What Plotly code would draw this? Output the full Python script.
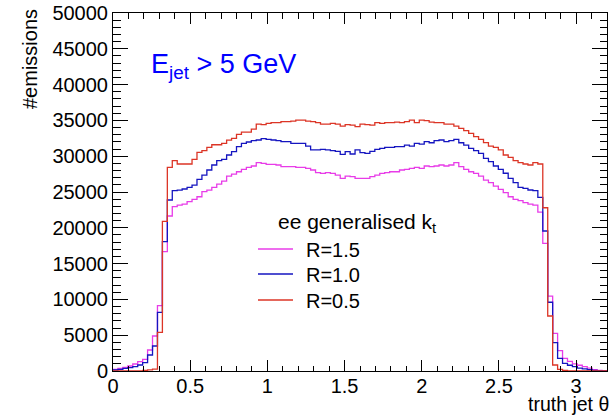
import numpy as np
import plotly.graph_objects as go

# histogram binning: 100 bins over truth jet theta in [0, 3.2]
bin_edges = np.linspace(0.0, 3.2, 101)

series_names = ["R=1.5", "R=1.0", "R=0.5"]

r15 = [230, 370, 510, 700, 980, 1300, 1630, 2930, 4890, 9120,
       16670, 21650, 22950, 23180, 23320, 23650, 23970, 24340, 25040, 25270,
       25650, 26110, 26530, 27230, 27510, 27830, 28160, 28440, 28630, 29100,
       29000, 28860, 28860, 28770, 28540, 28540, 28540, 28440, 28440, 28300,
       28070, 27700, 27600, 27700, 27600, 27370, 26910, 27230, 27140, 26910,
       26910, 26910, 27140, 27370, 27600, 27700, 27830, 27830, 28070, 28170,
       28310, 28440, 28310, 28630, 28540, 28630, 28770, 28630, 28770, 29100,
       28540, 28170, 27830, 27600, 27230, 26670, 26300, 25830, 25370, 24900,
       24340, 23970, 23790, 23510, 23320, 23180, 22200, 17830, 10470, 5260,
       2840, 1770, 1350, 1000, 800, 600, 400, 200, 100, 0]

r10 = [140, 230, 370, 470, 600, 840, 1160, 2235, 3490, 8190,
       18060, 23880, 25180, 25270, 25420, 25650, 25970, 26760, 27370, 28070,
       28770, 29370, 29560, 30170, 30630, 31330, 31790, 31980, 32170, 32260,
       32450, 32350, 32260, 32170, 32030, 32030, 31790, 31790, 31790, 31420,
       30870, 30870, 30960, 30870, 30770, 30680, 30260, 30630, 30310, 30870,
       30490, 30400, 30680, 30960, 31090, 31230, 31230, 31330, 31330, 31560,
       31420, 31790, 31700, 32030, 31880, 32170, 32260, 32030, 32170, 32360,
       31880, 31560, 31090, 30770, 30400, 29700, 29240, 28630, 28170, 27620,
       26910, 26300, 25650, 25510, 25280, 25180, 24250, 19550, 9600, 3950,
       1770, 1070, 800, 600, 400, 300, 200, 100, 50, 0]

r05 = [0, 0, 0, 0, 0, 0, 100, 150, 250, 5400,
       20900, 28440, 29380, 28910, 28910, 28910, 29560, 30540, 30770, 31230,
       31600, 31600, 31790, 32250, 32490, 33040, 33370, 33370, 33790, 34490,
       34400, 34580, 34680, 34680, 34820, 34820, 34910, 35050, 35050, 34910,
       34820, 34680, 34490, 34490, 34580, 34490, 34210, 34400, 34350, 34120,
       34490, 34400, 34350, 34680, 34580, 34680, 34680, 34770, 34680, 34820,
       35050, 34680, 35050, 34960, 34770, 34680, 34680, 34490, 34490, 34210,
       33890, 33560, 33190, 32730, 32360, 31900, 31420, 31230, 30870, 30170,
       29840, 29380, 29100, 28910, 28770, 29100, 28910, 22800, 7680, 840,
       240, 100, 0, 0, 0, 0, 0, 0, 0, 0]

y_ticks = [0, 5000, 10000, 15000, 20000, 25000, 30000, 35000, 40000, 45000, 50000]
x_ticks = [0, 0.5, 1, 1.5, 2, 2.5, 3]
x_tick_labels = ["0", "0.5", "1", "1.5", "2", "2.5", "3"]

colors = ["#e83ce8", "#1515c0", "#dc3526"]
FONT = "Liberation Sans, Arial, Helvetica, sans-serif"

fig = go.Figure()
for name, vals, col in zip(series_names, [r15, r10, r05], colors):
    fig.add_trace(go.Scatter(
        x=bin_edges, y=list(vals) + [vals[-1]],
        mode="lines", line=dict(color=col, width=1.3, shape="hv"),
        name=name, showlegend=False,
    ))

W, H = 613, 416
L, R, T, B = 113, 6, 13, 45
pw = W - L - R
ph = H - T - B


def px(xp):
    return (xp - L) / pw


def py(yp):
    return (H - B - yp) / ph


fig.update_layout(
    width=W, height=H,
    margin=dict(l=L, r=R, t=T, b=B, autoexpand=False),
    paper_bgcolor="white", plot_bgcolor="white",
    font=dict(family=FONT, size=20, color="black"),
    showlegend=False,
)

fig.update_xaxes(
    range=[0, 3.2], tickvals=x_ticks, ticktext=x_tick_labels, automargin=False,
    ticks="inside", ticklen=11, tickcolor="black", tickwidth=1,
    showline=True, linecolor="black", linewidth=1, mirror="allticks",
    showgrid=False, zeroline=False, ticklabelstandoff=-3,
    minor=dict(dtick=0.1, ticks="inside", ticklen=5.5, tickcolor="black", showgrid=False),
    tickfont=dict(size=20),
)
fig.update_yaxes(
    range=[0, 50000], tickvals=y_ticks, ticktext=[str(v) for v in y_ticks], automargin=False,
    ticks="inside", ticklen=15, tickcolor="black", tickwidth=1,
    showline=True, linecolor="black", linewidth=1, mirror="allticks",
    showgrid=False, zeroline=False,
    minor=dict(dtick=1000, ticks="inside", ticklen=7.5, tickcolor="black", showgrid=False),
    tickfont=dict(size=20),
)

# axis titles
fig.add_annotation(text="#emissions", textangle=-90, xref="paper", yref="paper",
                   x=px(30), y=py(7), xanchor="center", yanchor="top",
                   showarrow=False, font=dict(size=20, family=FONT))
fig.add_annotation(text="truth jet θ", xref="paper", yref="paper",
                   x=px(610), y=py(416), xanchor="right", yanchor="bottom",
                   showarrow=False, borderpad=0, font=dict(size=19.5, family=FONT))
# label
fig.add_annotation(text="E<sub>jet</sub> > 5 GeV", xref="paper", yref="paper",
                   x=px(149), y=py(66), xanchor="left", yanchor="middle",
                   showarrow=False, font=dict(size=27, family=FONT, color="#0000ff"))
# legend (title + keys)
fig.add_annotation(text="ee generalised k<sub>t</sub>", xref="paper", yref="paper",
                   x=px(276), y=py(223), xanchor="left", yanchor="middle",
                   showarrow=False, font=dict(size=21, family=FONT))
legend_rows = [249, 274, 300]
for name, col, yr in zip(series_names, colors, legend_rows):
    fig.add_shape(type="line", xref="paper", yref="paper",
                  x0=px(258), x1=px(293), y0=py(yr), y1=py(yr),
                  line=dict(color=col, width=1.3))
    fig.add_annotation(text=name, xref="paper", yref="paper",
                       x=px(304), y=py(yr + 1), xanchor="left", yanchor="middle",
                       showarrow=False, font=dict(size=20, family=FONT))

fig.write_html("out.html", config={"displayModeBar": False},
               post_script="document.body.style.margin='0px';document.body.style.overflow='hidden';")
